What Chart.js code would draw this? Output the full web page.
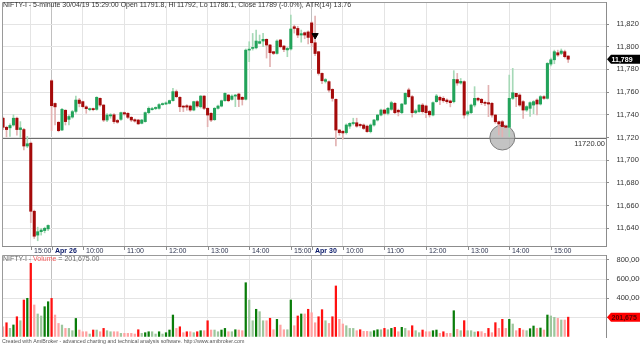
<!DOCTYPE html>
<html>
<head>
<meta charset="utf-8">
<title>NIFTY-I 5-minute</title>
<script src="https://cdn.jsdelivr.net/npm/chart.js@4.4.1/dist/chart.umd.min.js"></script>
<style>
  body { margin: 0; background: #fff; }
  #box { position: relative; width: 640px; height: 346px; overflow: hidden; }
  #priceChart { position: absolute; left: 0; top: 0; }
  #volChart { position: absolute; left: 0; top: 250px; }
</style>
</head>
<body>
<div id="box">
  <canvas id="priceChart" width="640" height="256"></canvas>
  <canvas id="volChart" width="640" height="96"></canvas>
</div>
<script>
const FONT = '"Liberation Sans", Arial, Helvetica, sans-serif';
Chart.defaults.font.family = FONT;

// time axis: bar index -> label
const tickIdx = [8, 14, 23, 35, 47, 59, 71, 83, 89, 98, 110, 122, 134, 146, 158];
const tickText = ['15:00', 'Apr 26', '10:00', '11:00', '12:00', '13:00', '14:00', '15:00',
  'Apr 30', '10:00', '11:00', '12:00', '13:00', '14:00', '15:00'];
const priceTicks = [11640, 11660, 11680, 11700, 11720, 11740, 11760, 11780, 11800, 11820];
const volTicks = [200000, 400000, 600000, 800000];

// 5-minute bars: Apr 25 (14:20-15:25), Apr 26 (9:15-15:25), Apr 30 (9:15-15:25)
const open = [
  11737, 11729, 11728.5, 11731, 11737, 11727, 11727, 11712.5, 11715, 11655, 11634, 11637, 11638, 11639.5,
  11770, 11750, 11733.4, 11726.6, 11744, 11736, 11738, 11743, 11753, 11751.6,
  11747, 11744.5, 11745.5, 11744.8, 11754.5, 11748.6, 11735.4, 11739, 11740, 11735,
  11736, 11741.9, 11741.3, 11737.8, 11735.7, 11735.4, 11732.5, 11734, 11741.9, 11744.5,
  11745.5, 11745.7, 11749, 11749.5, 11750.1, 11752.5, 11760.4, 11755.4, 11747.7, 11748,
  11747.7, 11744.2, 11751.6, 11747.1, 11756.5, 11745.7, 11741.3, 11735.7, 11745.7, 11747.7,
  11752.4, 11757.4, 11753.6, 11756.5, 11758.3, 11755.4, 11753.7, 11797, 11798.5, 11799,
  11803, 11805, 11806.5, 11801.5, 11795.6, 11794.1, 11805.9, 11800.6, 11797.2, 11798,
  11817.6, 11816.1, 11810.3, 11812.3, 11813,
  11821, 11803.5, 11795.6, 11776.5, 11769.5, 11769.2, 11762.4, 11753.6, 11726.6, 11725.5,
  11724.3, 11730, 11732.3, 11733, 11731.5, 11731, 11730, 11725.2, 11731, 11735.4,
  11739.8, 11744.2, 11741.3, 11744.8, 11750.1, 11744, 11741.9, 11749.5, 11761.9, 11756,
  11742, 11742.8, 11748.6, 11747.8, 11743, 11739.8, 11751.6, 11755.4, 11754.5, 11753,
  11752.2, 11751.6, 11771, 11768, 11769.2, 11740.7, 11741.9, 11748.6, 11754.5, 11753.6,
  11750.7, 11750.7, 11750.1, 11739.8, 11733.9, 11733.9, 11730.1, 11729, 11754.5, 11758.9,
  11757.4, 11751.6, 11744.2, 11745.7, 11748.6, 11753, 11749.5, 11756, 11754.5, 11784.7,
  11788.5, 11794.7, 11794.1, 11795.6, 11791.8
];
const high = [
  11738, 11730, 11732, 11740, 11738, 11734, 11728, 11721, 11716, 11656, 11641, 11640, 11641, 11643,
  11771, 11750.5, 11734, 11745.7, 11744.5, 11740, 11744, 11756.5, 11754.5, 11752,
  11748, 11746, 11746, 11756, 11755, 11749, 11741, 11741, 11741, 11736,
  11742.5, 11742.5, 11742, 11738.5, 11736.5, 11736, 11736, 11742.5, 11747, 11746.5,
  11747, 11750, 11750.5, 11751.5, 11753, 11763.3, 11761.9, 11756, 11748, 11749,
  11748.5, 11752, 11752.5, 11757, 11757, 11746.5, 11742, 11746.5, 11748.5, 11753,
  11759.5, 11758, 11757.5, 11758, 11759, 11756, 11798, 11804.4, 11811.7, 11814.7,
  11810.3, 11811.7, 11807, 11802, 11796, 11806, 11806.5, 11801, 11799.5, 11827.9,
  11819, 11818, 11814.7, 11813, 11814,
  11822, 11827, 11796, 11777, 11772, 11770, 11763, 11754, 11727, 11726,
  11732, 11733, 11737, 11737, 11732, 11732, 11731, 11732, 11736, 11740.5,
  11745, 11745, 11746.5, 11752, 11751, 11745, 11750, 11759.5, 11763.5, 11757,
  11745, 11749, 11750, 11748.5, 11744, 11751.5, 11758, 11756.5, 11756, 11754,
  11753, 11778.9, 11776.5, 11772, 11770, 11744, 11749.5, 11764.8, 11755.5, 11754.5,
  11752, 11766, 11751, 11740.5, 11734.5, 11735, 11731, 11775, 11780.9, 11759,
  11758.5, 11752.5, 11748, 11751.5, 11752.5, 11754, 11757, 11757, 11786, 11790,
  11797, 11797, 11798, 11797, 11792
];
const low = [
  11727, 11720.5, 11721, 11730, 11722, 11720, 11709, 11711, 11645, 11631, 11629, 11634, 11636, 11638,
  11726, 11731, 11725, 11726, 11731, 11731, 11737, 11741.5, 11747, 11746,
  11741.3, 11743.5, 11743.5, 11744, 11747.5, 11734, 11734, 11737, 11732.5, 11732.5,
  11735, 11739.5, 11736.5, 11734, 11733.5, 11731.5, 11732, 11733.5, 11741, 11744,
  11744.5, 11745, 11748.5, 11749, 11749.5, 11752, 11755, 11742.8, 11742.8, 11744,
  11743, 11743.5, 11746.5, 11746, 11744.5, 11729.5, 11734, 11735, 11745, 11747,
  11752, 11751.5, 11753, 11747.2, 11747.2, 11748.6, 11753, 11786.8, 11797, 11798,
  11802.5, 11800, 11790, 11782.4, 11793, 11793.5, 11799, 11795.6, 11791.2, 11797,
  11812, 11808, 11804, 11807, 11802.4,
  11800, 11792, 11775, 11767.5, 11768, 11760, 11752, 11712.5, 11722, 11718.5,
  11723, 11728, 11731, 11729, 11729, 11727, 11724.5, 11724, 11730, 11734.5,
  11739, 11740, 11740, 11744, 11741, 11739, 11741, 11749, 11755, 11738,
  11741, 11742, 11741.5, 11737.5, 11738, 11739, 11751, 11749, 11751, 11750,
  11747, 11750.5, 11766, 11767, 11737, 11739, 11741, 11747, 11752, 11749,
  11748, 11738.4, 11738, 11732.5, 11722.2, 11720.7, 11727.5, 11720.7, 11753.5, 11747.2,
  11747.5, 11736.9, 11743, 11738.5, 11741, 11739.8, 11748.6, 11753.5, 11753.8, 11783,
  11785, 11791.5, 11793, 11790, 11786.1
];
const close = [
  11729, 11727, 11730.6, 11737, 11727, 11728.5, 11712.5, 11714.5, 11655, 11633, 11637, 11638.5, 11640, 11642.5,
  11748, 11747, 11726, 11744.8, 11734, 11738.5, 11742.8, 11753, 11750, 11747.2,
  11745.4, 11745.5, 11744.5, 11755.4, 11748.6, 11735.4, 11739.8, 11740, 11734, 11733.5,
  11741.9, 11740.7, 11737.8, 11735.4, 11734.5, 11732, 11735.4, 11741.9, 11745.7, 11745.5,
  11746.5, 11749, 11749.8, 11750.5, 11752.5, 11760.4, 11756, 11747.1, 11746.8, 11746.8,
  11744.2, 11751.6, 11747.7, 11756.5, 11745.7, 11739.8, 11735.4, 11745.7, 11747.7, 11752.4,
  11758.9, 11752.4, 11756.5, 11757.4, 11753.6, 11753.6, 11797, 11797.5, 11799.3, 11805,
  11804.5, 11806.5, 11801.5, 11794.7, 11794.1, 11805, 11800, 11797.6, 11798.5, 11815.6,
  11816.1, 11810.3, 11811.5, 11810.3, 11808.2,
  11803.5, 11794, 11776.5, 11770, 11771, 11761.8, 11754.5, 11726.6, 11724.3, 11724,
  11731, 11732.5, 11733, 11730, 11730.5, 11728, 11725.2, 11731, 11735.4, 11739.8,
  11744.2, 11741.3, 11745.7, 11750.7, 11741.9, 11742.5, 11749.5, 11758.9, 11756, 11741.9,
  11743.5, 11748.6, 11742.8, 11741.9, 11740, 11750.7, 11756.6, 11753, 11752.4, 11751.6,
  11750.7, 11771.2, 11768, 11769.5, 11739.8, 11742.7, 11748.6, 11754.5, 11753, 11750.7,
  11750.1, 11749.5, 11739.8, 11733.9, 11731.9, 11729.6, 11729, 11754.5, 11759.5, 11756,
  11748.6, 11744.2, 11747.2, 11750.7, 11751.6, 11749.5, 11756, 11754.5, 11785.3, 11788.5,
  11795.6, 11792.7, 11796.2, 11791.2, 11789
];
const volume = [
  101000, 143000, 85000, 120000, 206000, 164000, 381000, 399000, 765000, 329000, 235000, 214000, 311000, 363000,
  398000, 224000, 136000, 119000, 84000, 84000, 60000, 188000, 67000, 49000,
  49000, 25000, 67000, 67000, 49000, 84000, 60000, 49000, 49000, 49000,
  32000, 32000, 32000, 32000, 25000, 70000, 32000, 39000, 49000, 49000,
  25000, 49000, 25000, 39000, 67000, 224000, 84000, 101000, 39000, 49000,
  49000, 39000, 49000, 60000, 60000, 164000, 67000, 67000, 49000, 67000,
  84000, 49000, 49000, 70000, 67000, 60000, 562000, 381000, 164000, 284000,
  259000, 164000, 164000, 190000, 70000, 179000, 119000, 70000, 70000, 381000,
  112000, 214000, 235000, 235000, 284000,
  248000, 143000, 206000, 280000, 164000, 136000, 206000, 528000, 179000, 130000,
  112000, 84000, 84000, 60000, 70000, 53000, 53000, 49000, 60000, 70000,
  70000, 84000, 70000, 84000, 95000, 49000, 95000, 84000, 60000, 112000,
  60000, 39000, 67000, 49000, 49000, 60000, 67000, 32000, 49000, 32000, 32000,
  269000, 74000, 60000, 165000, 60000, 60000, 46000, 50000, 50000, 32000,
  84000, 39000, 144000, 84000, 179000, 84000, 179000, 130000, 60000, 84000,
  67000, 60000, 81000, 109000, 84000, 88000, 67000, 224000, 214000, 200000,
  189000, 172000, 172000, 201675
];

const supportLevel = 11720;
const sellBar = 90, sellPrice = 11810;
const markBar = 144, markPrice = 11720;
const atr14 = 13.76;

const last = close.length - 1;
const bars = close.map((c, i) => i);
const fmt = v => v.toLocaleString('en-US');
const isUp = i => close[i] >= open[i];
const chg = ((close[last] - close[last - 1]) / close[last - 1] * 100).toFixed(1);
const titleText = 'NIFTY-I - 5-minute 30/04/19 15:29:00 Open ' + open[last] + ', Hi ' + high[last] +
  ', Lo ' + low[last] + ', Close ' + close[last] + ' (' + chg + '%), ATR(14) ' + atr14;

const GREEN = '#22a35a', RED = '#a50a0a';
const GREEN_WICK = '#a6d9b7', RED_WICK = '#e2b2b2';
const VOL_UP = '#0a7d0a', VOL_UP_LT = '#9dc69d', VOL_DN = '#ff1010', VOL_DN_LT = '#ffa2a2';

const xMin = -0.3, xMax = 173.9;

const isDay = t => t && tickText[tickIdx.indexOf(t.value)].startsWith('Apr');

const timeAxis = showBorder => ({
  type: 'linear', min: xMin, max: xMax, offset: false,
  afterBuildTicks: s => { s.ticks = tickIdx.map(v => ({ value: v })); },
  afterFit: s => { s.height = 0; s.paddingLeft = 0; s.paddingRight = 0; },
  ticks: { display: false },
  grid: { offset: false, drawTicks: false, color: c => isDay(c.tick) ? '#c0c0c0' : '#e4e4e4' },
  border: { display: showBorder, color: '#8c8c8c' }
});

const valueAxis = (min, max, tickList, labelFn) => ({
  position: 'right', min, max,
  afterBuildTicks: s => { s.ticks = tickList.map(v => ({ value: v })); },
  afterFit: s => { s.width = 34; s.paddingTop = 0; s.paddingBottom = 0; },
  ticks: { padding: 7.5, color: '#333', font: { size: 7.5 }, autoSkip: false, callback: labelFn },
  grid: { color: '#e4e4e4', tickColor: '#8c8c8c', tickLength: 3 },
  border: { color: '#8c8c8c' }
});

function valueTag(ctx, left, yc, text, bg, fg) {
  ctx.fillStyle = bg;
  ctx.beginPath();
  ctx.moveTo(left, yc);
  ctx.lineTo(left + 4, yc - 4.5);
  ctx.lineTo(640, yc - 4.5);
  ctx.lineTo(640, yc + 4.5);
  ctx.lineTo(left + 4, yc + 4.5);
  ctx.closePath();
  ctx.fill();
  ctx.fillStyle = fg;
  ctx.font = 'bold 7px ' + FONT;
  ctx.textAlign = 'left';
  ctx.textBaseline = 'middle';
  ctx.fillText(text, left + 4.5, yc + 0.5);
}

function frame(ctx, a) {
  ctx.strokeStyle = '#9a9a9a';
  ctx.lineWidth = 1;
  ctx.beginPath();
  ctx.moveTo(a.left + 0.5, a.bottom);
  ctx.lineTo(a.left + 0.5, a.top + 0.5);
  ctx.lineTo(a.right, a.top + 0.5);
  ctx.stroke();
}

const pricePane = {
  id: 'pricePane',
  beforeDatasetsDraw(chart) {
    const { ctx, chartArea: a, scales: { y } } = chart;
    const py = Math.round(y.getPixelForValue(supportLevel)) + 0.5;
    ctx.save();
    ctx.strokeStyle = '#6e6e6e';
    ctx.lineWidth = 1;
    ctx.beginPath();
    ctx.moveTo(a.left, py);
    ctx.lineTo(a.right, py);
    ctx.stroke();
    ctx.restore();
  },
  afterDraw(chart) {
    const { ctx, chartArea: a, scales: { x, y } } = chart;
    ctx.save();
    frame(ctx, a);

    ctx.fillStyle = '#333';
    ctx.font = '7px ' + FONT;
    ctx.textBaseline = 'top';
    ctx.textAlign = 'left';
    ctx.fillText(titleText, 3, 1.5);

    const py = Math.round(y.getPixelForValue(supportLevel)) + 0.5;
    ctx.font = '7.5px ' + FONT;
    ctx.textAlign = 'right';
    ctx.fillText(supportLevel.toFixed(2), a.right - 1, py + 1.5);

    // time labels under the price pane
    ctx.textAlign = 'left';
    tickIdx.forEach((v, j) => {
      const px = Math.round(x.getPixelForValue(v)) + 0.5;
      ctx.strokeStyle = '#8c8c8c';
      ctx.beginPath();
      ctx.moveTo(px, a.bottom);
      ctx.lineTo(px, a.bottom + 4);
      ctx.stroke();
      const day = tickText[j].startsWith('Apr');
      ctx.font = (day ? 'bold ' : '') + '7px ' + FONT;
      ctx.fillStyle = day ? '#0a1a6a' : '#2e3550';
      ctx.fillText(tickText[j], px + 2.5, a.bottom + 1.5);
    });

    valueTag(ctx, a.right + 1, y.getPixelForValue(close[last]), fmt(close[last]), '#000', '#fff');
    ctx.restore();
  }
};

const volPane = {
  id: 'volPane',
  afterDraw(chart) {
    const { ctx, chartArea: a, scales: { y } } = chart;
    ctx.save();
    frame(ctx, a);
    ctx.font = '7px ' + FONT;
    ctx.textBaseline = 'top';
    ctx.textAlign = 'left';
    let tx = 3;
    const parts = [['NIFTY-I - ', '#6a6a6a'], ['Volume', '#f05a5a'],
      [' = ' + volume[last].toLocaleString('en-US', { minimumFractionDigits: 2 }), '#6a6a6a']];
    parts.forEach(([t, c]) => {
      ctx.fillStyle = c;
      ctx.fillText(t, tx, a.top + 1);
      tx += ctx.measureText(t).width;
    });

    ctx.font = '5.3px ' + FONT;
    ctx.fillStyle = '#555';
    ctx.fillText('Created with AmiBroker - advanced charting and technical analysis software. http://www.amibroker.com', 2, a.bottom + 1.8);

    valueTag(ctx, a.right + 1, y.getPixelForValue(volume[last]), fmt(volume[last]), '#ff0000', '#5a0000');
    ctx.restore();
  }
};

const common = {
  responsive: false,
  maintainAspectRatio: false,
  animation: false,
  events: [],
  plugins: { legend: { display: false }, tooltip: { enabled: false } }
};

new Chart(document.getElementById('priceChart'), {
  type: 'bar',
  data: {
    datasets: [
      {
        type: 'bar',
        data: bars.map(i => ({ x: i, y: [low[i], high[i]] })),
        backgroundColor: bars.map(i => isUp(i) ? GREEN_WICK : RED_WICK),
        barThickness: 1, grouped: false, order: 2
      },
      {
        type: 'bar',
        data: bars.map(i => ({ x: i, y: [open[i], close[i]] })),
        backgroundColor: bars.map(i => isUp(i) ? GREEN : RED),
        barThickness: 2.4, minBarLength: 1, grouped: false, order: 1
      },
      {
        type: 'scatter',
        data: [{ x: markBar, y: markPrice }],
        pointRadius: 12.5, backgroundColor: 'rgba(170,170,170,0.7)',
        borderColor: '#7c7c7c', borderWidth: 1, order: 3
      },
      {
        type: 'scatter',
        data: [{ x: sellBar, y: sellPrice }],
        pointStyle: 'triangle', rotation: 180, pointRadius: 3.6,
        backgroundColor: '#000', borderColor: '#000', order: 0
      }
    ]
  },
  options: {
    ...common,
    layout: { autoPadding: false, padding: { left: 2, top: 2, right: 0, bottom: 10 } },
    scales: {
      x: timeAxis(true),
      y: valueAxis(11624.4, 11839.4, priceTicks, v => fmt(v))
    }
  },
  plugins: [pricePane]
});

new Chart(document.getElementById('volChart'), {
  type: 'bar',
  data: {
    datasets: [{
      data: bars.map(i => ({ x: i, y: volume[i] })),
      backgroundColor: bars.map(i => {
        const dark = i > 0 && volume[i] > volume[i - 1];
        return isUp(i) ? (dark ? VOL_UP : VOL_UP_LT) : (dark ? VOL_DN : VOL_DN_LT);
      }),
      barThickness: 1.6, grouped: false
    }]
  },
  options: {
    ...common,
    layout: { autoPadding: false, padding: { left: 2, top: 5, right: 0, bottom: 9 } },
    scales: {
      x: timeAxis(false),
      y: valueAxis(-6000, 852000, volTicks, v => fmt(v))
    }
  },
  plugins: [volPane]
});
</script>
</body>
</html>
